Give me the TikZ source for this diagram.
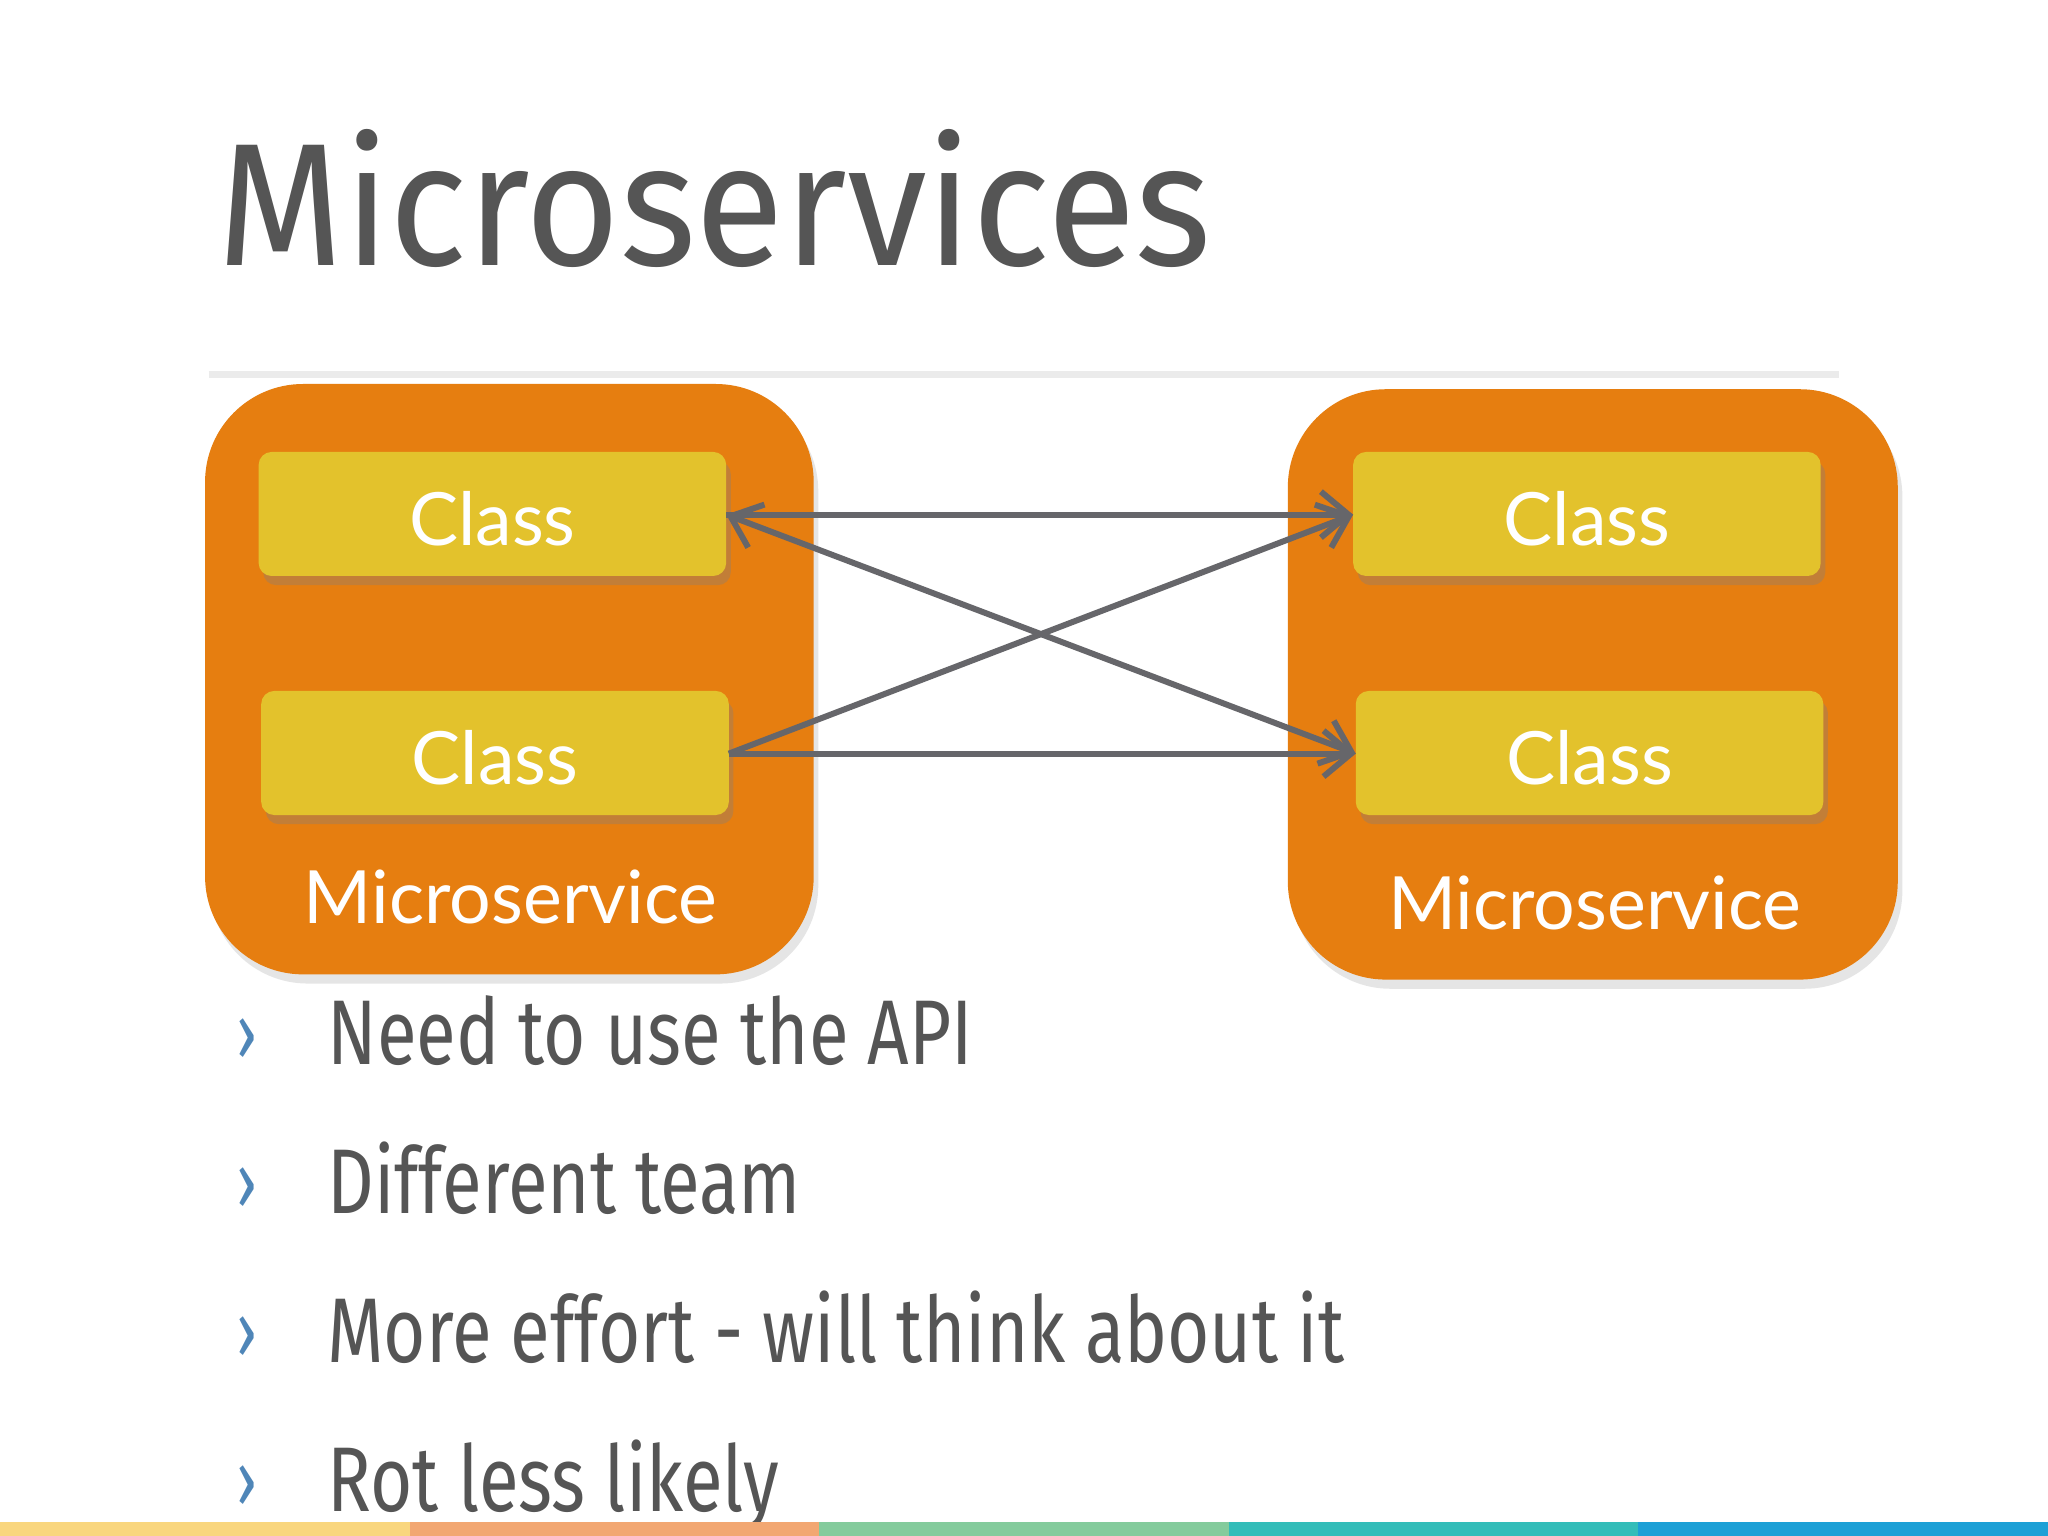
\documentclass[tikz,border=0pt]{standalone}
\usepackage{fontspec}
\setmainfont{Fira Sans}
\newfontfamily\titlefont{Fira Sans}[FakeStretch=0.93]
\newfontfamily\bodyfont{Fira Sans}[FakeStretch=0.79]
\newfontfamily\classfont{Lato}
\usetikzlibrary{shadows,arrows.meta}
\definecolor{svcorange}{HTML}{E67E10}
\definecolor{clsyellow}{HTML}{E3C22C}
\definecolor{txtgray}{HTML}{555555}
\definecolor{arrgray}{HTML}{66666A}
\definecolor{chevblue}{HTML}{4F86B8}
\tikzstyle{service} = [fill=svcorange,rounded corners=0.75cm,drop shadow={opacity=0.2,shadow xshift=1pt,shadow yshift=-2pt}]
\tikzstyle{klass} = [fill=clsyellow,rounded corners=0.1cm,drop shadow={opacity=0.35,shadow xshift=1pt,shadow yshift=-2pt}]
\tikzstyle{arrow} = [draw=arrgray,line width=1.3pt,-{Straight Barb[length=6pt,width=10pt]}]
\tikzstyle{bullet} = [anchor=base west,text=txtgray,font=\bodyfont\fontsize{20}{24}\selectfont]
\tikzstyle{label} = [text=white,font=\classfont\fontsize{16}{20}\selectfont]

\begin{document}
\begin{tikzpicture}[x=0.01cm,y=-0.01cm]
\useasboundingbox (0,0) rectangle (1568,1176);
\fill[white] (0,0) rectangle (1568,1176);

\node (title) [anchor=base west,text=txtgray,font=\titlefont\fontsize{38}{44}\selectfont,inner sep=0] at (166,203) {Microservices};
\draw[black!8,line width=1.5pt] (160,287) -- (1408,287);

% services
\path[service] (157,294) rectangle (623,746);
\path[service] (986,298) rectangle (1453,750);
\path[klass] (198,346) rectangle (556,441);
\path[klass] (200,529) rectangle (558,624);
\path[klass] (1036,346) rectangle (1394,441);
\path[klass] (1038,529) rectangle (1396,624);

\node (lt) [label] at (377,397) {Class};
\node (lb) [label] at (379,580) {Class};
\node (rt) [label] at (1215,397) {Class};
\node (rb) [label] at (1217,580) {Class};
\node (lsvc) [label] at (391,687) {Microservice};
\node (rsvc) [label] at (1221,691) {Microservice};

\coordinate (ltE) at (556,394);
\coordinate (lbE) at (558,577);
\coordinate (rtW) at (1036,394);
\coordinate (rbW) at (1038,577);
\draw [arrow] (ltE) -- (rtW);
\draw [arrow] (lbE) -- (rbW);
\draw [arrow] (lbE) -- (rtW);
\draw [arrow,{Straight Barb[length=6pt,width=10pt]}-{Straight Barb[length=6pt,width=10pt]}] (ltE) -- (rbW);

% bullets
\foreach \t [count=\i] in {Need to use the API,Different team,More effort - will think about it,Rot less likely} {
  \node (c\i) [anchor=base west,text=chevblue,font=\bodyfont\fontsize{17}{20}\selectfont,inner sep=0] at (180,812+114*\i-114) {›};
  \node (b\i) [bullet,inner sep=0] at (250,815+114*\i-114) {\t};
}

% color bar
\foreach \c [count=\i] in {F9D67E,F2A772,84CB9C,33BDB9,1DA0D6} {
  \definecolor{bar}{HTML}{\c}
  \fill[bar] (313.6*\i-313.6,1165) rectangle (313.6*\i,1176);
}
\end{tikzpicture}
\end{document}
